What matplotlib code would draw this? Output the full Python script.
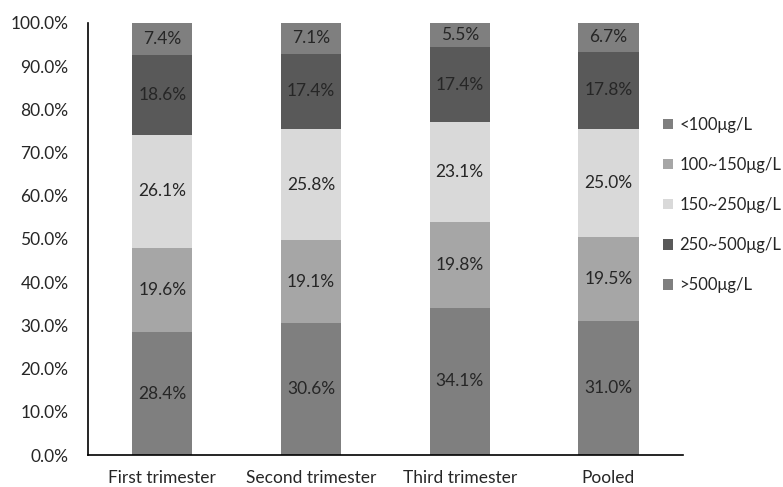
import matplotlib
matplotlib.use("Agg")
import matplotlib.pyplot as plt
from matplotlib.ticker import FuncFormatter

plt.rcParams['font.family'] = ['Lato', 'DejaVu Sans']

categories = ["First trimester", "Second trimester", "Third trimester", "Pooled"]
series_names = ["<100μg/L", "100~150μg/L", "150~250μg/L", "250~500μg/L", ">500μg/L"]
lt100 = [28.4, 30.6, 34.1, 31.0]
r100_150 = [19.6, 19.1, 19.8, 19.5]
r150_250 = [26.1, 25.8, 23.1, 25.0]
r250_500 = [18.6, 17.4, 17.4, 17.8]
gt500 = [7.4, 7.1, 5.5, 6.7]
series = [lt100, r100_150, r150_250, r250_500, gt500]
colors = ["#7f7f7f", "#a6a6a6", "#d9d9d9", "#595959", "#7f7f7f"]

fig = plt.figure(figsize=(7.83, 4.87), dpi=100)
ax = fig.add_axes([0.1124, 0.0657, 0.7596, 0.8871])

x = list(range(len(categories)))
bottoms = [0.0] * len(categories)
handles = []
for name, vals, c in zip(series_names, series, colors):
    bars = ax.bar(x, vals, bottom=bottoms, width=0.405, color=c, label=name)
    handles.append(bars)
    for xi, v, b in zip(x, vals, bottoms):
        ax.text(xi, b + v / 2, f"{v:.1f}%", ha="center", va="center",
                fontsize=12.5, color="#262626")
    bottoms = [b + v for b, v in zip(bottoms, vals)]

ax.set_xlim(-0.5, 3.5)
ax.set_ylim(0, 100)
ax.set_yticks(range(0, 101, 10))
ax.yaxis.set_major_formatter(FuncFormatter(lambda v, p: f"{v:.1f}%"))
ax.set_xticks(x)
ax.set_xticklabels(categories)
ax.tick_params(axis="both", length=0, labelsize=12.5, colors="#262626")
ax.tick_params(axis="x", pad=11)
ax.tick_params(axis="y", pad=14)
for s in ["top", "right"]:
    ax.spines[s].set_visible(False)
for s in ["left", "bottom"]:
    ax.spines[s].set_color("black")
    ax.spines[s].set_linewidth(1.2)

leg = fig.legend(handles=handles, labels=series_names, loc="center left",
                 bbox_to_anchor=(0.838, 0.579), frameon=False, fontsize=12,
                 handlelength=0.6, handleheight=0.6, handletextpad=0.4,
                 labelspacing=1.45, borderaxespad=0)
for t in leg.get_texts():
    t.set_color("#262626")

fig.savefig("out.png", dpi=100)
